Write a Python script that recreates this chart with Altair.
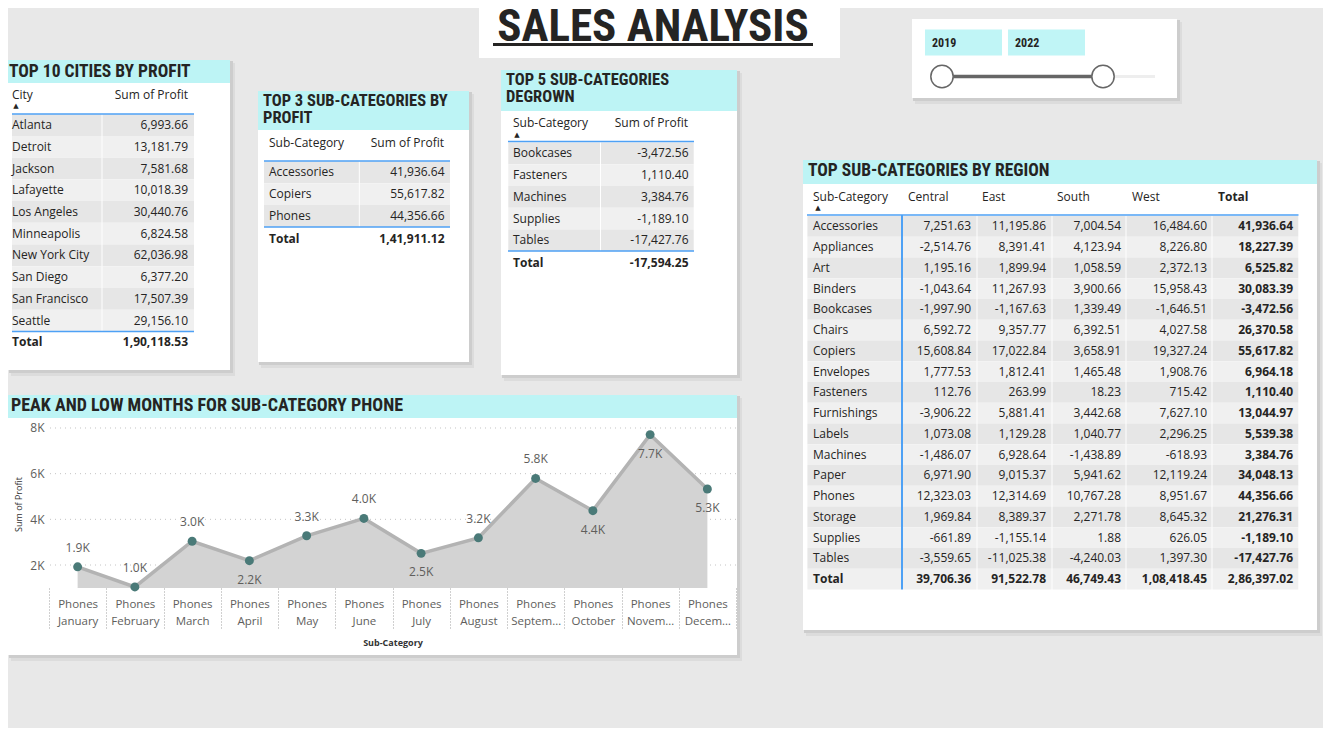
import pandas as pd
import altair as alt

# ---- values ----
cities = ["Atlanta", "Detroit", "Jackson", "Lafayette", "Los Angeles", "Minneapolis",
          "New York City", "San Diego", "San Francisco", "Seattle"]
city_profit = [6993.66, 13181.79, 7581.68, 10018.39, 30440.76, 6824.58,
               62036.98, 6377.20, 17507.39, 29156.10]
city_total = 190118.53

top3_subcats = ["Accessories", "Copiers", "Phones"]
top3_profit = [41936.64, 55617.82, 44356.66]
top3_total = 141911.12

degrown_subcats = ["Bookcases", "Fasteners", "Machines", "Supplies", "Tables"]
degrown_profit = [-3472.56, 1110.40, 3384.76, -1189.10, -17427.76]
degrown_total = -17594.25

regions = ["Central", "East", "South", "West"]
subcats = ["Accessories", "Appliances", "Art", "Binders", "Bookcases", "Chairs", "Copiers",
           "Envelopes", "Fasteners", "Furnishings", "Labels", "Machines", "Paper", "Phones",
           "Storage", "Supplies", "Tables"]
central = [7251.63, -2514.76, 1195.16, -1043.64, -1997.90, 6592.72, 15608.84, 1777.53, 112.76,
           -3906.22, 1073.08, -1486.07, 6971.90, 12323.03, 1969.84, -661.89, -3559.65]
east = [11195.86, 8391.41, 1899.94, 11267.93, -1167.63, 9357.77, 17022.84, 1812.41, 263.99,
        5881.41, 1129.28, 6928.64, 9015.37, 12314.69, 8389.37, -1155.14, -11025.38]
south = [7004.54, 4123.94, 1058.59, 3900.66, 1339.49, 6392.51, 3658.91, 1465.48, 18.23,
         3442.68, 1040.77, -1438.89, 5941.62, 10767.28, 2271.78, 1.88, -4240.03]
west = [16484.60, 8226.80, 2372.13, 15958.43, -1646.51, 4027.58, 19327.24, 1908.76, 715.42,
        7627.10, 2296.25, -618.93, 12119.24, 8951.67, 8645.32, 626.05, 1397.30]
subcat_total = [41936.64, 18227.39, 6525.82, 30083.39, -3472.56, 26370.58, 55617.82, 6964.18,
                1110.40, 13044.97, 5539.38, 3384.76, 34048.13, 44356.66, 21276.31, -1189.10,
                -17427.76]
region_total = [39706.36, 91522.78, 46749.43, 108418.45, 286397.02]

months = ["January", "February", "March", "April", "May", "June", "July", "August",
          "September", "October", "November", "December"]
phone_profit = [1920, 1040, 3040, 2190, 3280, 4040, 2510, 3190, 5790, 4380, 7710, 5330]
profit_ticks = [2000, 4000, 6000, 8000]
labels_below = ["April", "July", "October", "November", "December"]

years = [2019, 2022]

# ---- look ----
BG = "#e8e8e8"
CYAN = "#bdf4f5"
INK = "#252423"
GREY = "#605e5c"
BLUE = "#4ea1f5"
STRIPES = ["#e6e6e6", "#f0f0f0"]
BODY = "Open Sans"
HEAD = "Liberation Sans Narrow, Roboto Condensed, Roboto"

# plot area of the monthly chart (page px); everything else is placed relative to it
OX, OY = 49, 420
PW, PH = 687, 168
Y_DOMAIN = [993, 8350]

ONE = pd.DataFrame({"k": [0]})


def px(x):
    return x - OX


def py(y):
    return y - OY


def inr(v):
    # Indian digit grouping, as the report shows it (1,90,118.53)
    sign = "-" if v < 0 else ""
    ip, dp = f"{abs(v):.2f}".split(".")
    if len(ip) > 3:
        head, groups = ip[:-3], [ip[-3:]]
        while len(head) > 2:
            groups.insert(0, head[-2:])
            head = head[:-2]
        if head:
            groups.insert(0, head)
        ip = ",".join(groups)
    return f"{sign}{ip}.{dp}"


def box(x0, y0, x1, y1, color):
    return alt.Chart(ONE).mark_rect(color=color).encode(
        x=alt.value(px(x0)), x2=alt.value(px(x1)), y=alt.value(py(y0)), y2=alt.value(py(y1)))


def hline(x0, x1, y, color=BLUE, width=1.5):
    return alt.Chart(ONE).mark_rule(color=color, strokeWidth=width).encode(
        x=alt.value(px(x0)), x2=alt.value(px(x1)), y=alt.value(py(y)))


def vline(x, y0, y1, color=BLUE, width=2):
    return alt.Chart(ONE).mark_rule(color=color, strokeWidth=width).encode(
        x=alt.value(px(x)), y=alt.value(py(y0)), y2=alt.value(py(y1)))


def text(s, x, y, size=12, bold=False, align="left", font=BODY, color=INK, baseline="middle"):
    return alt.Chart(ONE).mark_text(
        text=s, align=align, baseline=baseline, fontSize=size, font=font, color=color,
        fontWeight="bold" if bold else "normal").encode(x=alt.value(px(x)), y=alt.value(py(y)))


def card(x0, y0, x1, y1, header_bottom=None):
    out = [box(x0 + 3, y0 + 3, x1 + 5, y1 + 6, "#dcdcdc"),
           box(x0 + 1, y0 + 1, x1 + 3, y1 + 3, "#cdcdcd"),
           box(x0, y0, x1, y1, "white")]
    if header_bottom:
        out.append(box(x0, y0, x1, header_bottom, CYAN))
    return out


def sort_arrow(x, y):
    return text("▲", x, y, size=7, font="DejaVu Sans", align="center")


def table_body(df, top, bottom, segments, key_x, cols, total_key=None):
    """Striped rows on a band scale. cols: (field, right edge, always bold)."""
    scale = alt.Scale(type="band", domain=list(df["name"]), range=[py(top), py(bottom)],
                      paddingInner=0, paddingOuter=0)
    y_rect = alt.Y("name:N", scale=scale, axis=None)
    y_txt = alt.Y("name:N", scale=scale, axis=None, bandPosition=0.5)
    layers = []
    for x0, x1 in segments:
        layers.append(alt.Chart(df).mark_rect().encode(
            x=alt.value(px(x0)), x2=alt.value(px(x1)), y=y_rect,
            color=alt.condition("datum.i % 2 == 0", alt.value(STRIPES[0]), alt.value(STRIPES[1]))))

    def txt(field, x, align, bold, filt):
        ch = alt.Chart(df)
        if filt:
            ch = ch.transform_filter(filt)
        return ch.mark_text(align=align, baseline="middle", font=BODY, fontSize=12, color=INK,
                            fontWeight="bold" if bold else "normal").encode(
            x=alt.value(px(x)), y=y_txt, text=f"{field}:N")

    not_total = f"datum.name != '{total_key}'" if total_key else None
    is_total = f"datum.name == '{total_key}'" if total_key else None
    layers.append(txt("name", key_x, "left", False, not_total))
    if total_key:
        layers.append(txt("name", key_x, "left", True, is_total))
    for field, xr, bold in cols:
        layers.append(txt(field, xr, "right", bold, None if bold else not_total))
        if total_key and not bold:
            layers.append(txt(field, xr, "right", True, is_total))
    return layers


layers = []

# ---- top 10 cities ----
city_df = pd.DataFrame({"name": cities, "profit": [inr(v) for v in city_profit],
                        "i": range(len(cities))})
layers += card(8, 60, 230, 370, 83)
layers += [text("TOP 10 CITIES BY PROFIT", 9, 72, size=17.5, bold=True, font=HEAD),
           text("City", 12, 95), text("Sum of Profit", 188, 95, align="right"),
           sort_arrow(16, 106)]
layers += table_body(city_df, 114.2, 331.4, [(12, 101.5), (102.5, 194)], 12,
                     [("profit", 188, False)])
layers += [hline(12, 194, 114), hline(12, 194, 331.5),
           text("Total", 12, 342, bold=True), text(inr(city_total), 188, 342, bold=True, align="right")]

# ---- top 3 sub-categories ----
top3_df = pd.DataFrame({"name": top3_subcats, "profit": [inr(v) for v in top3_profit],
                        "i": range(len(top3_subcats))})
layers += card(258, 91, 469, 362, 130)
layers += [text("TOP 3 SUB-CATEGORIES BY", 263, 101, size=16.5, bold=True, font=HEAD),
           text("PROFIT", 263, 118, size=16.5, bold=True, font=HEAD),
           text("Sub-Category", 269, 143), text("Sum of Profit", 444, 143, align="right")]
layers += table_body(top3_df, 161.3, 227, [(264, 358.8), (359.8, 450)], 269,
                     [("profit", 444.5, False)])
layers += [hline(264, 450, 161), hline(264, 450, 227),
           text("Total", 269, 238.5, bold=True),
           text(inr(top3_total), 444.5, 238.5, bold=True, align="right")]

# ---- top 5 sub-categories degrown ----
deg_df = pd.DataFrame({"name": degrown_subcats, "profit": [inr(v) for v in degrown_profit],
                       "i": range(len(degrown_subcats))})
layers += card(501, 70, 737, 375, 111)
layers += [text("TOP 5 SUB-CATEGORIES", 506, 80, size=16.5, bold=True, font=HEAD),
           text("DEGROWN", 506, 97, size=16.5, bold=True, font=HEAD),
           text("Sub-Category", 513, 123), text("Sum of Profit", 688, 123, align="right"),
           sort_arrow(517, 135)]
layers += table_body(deg_df, 142.4, 251.2, [(508.3, 600), (601, 693.7)], 513,
                     [("profit", 688.5, False)])
layers += [hline(508, 694, 141.5), hline(508, 694, 251),
           text("Total", 513, 262.5, bold=True),
           text(inr(degrown_total), 688.5, 262.5, bold=True, align="right")]

# ---- report title ----
layers += [box(479, 8, 840, 58, "white"),
           text("SALES ANALYSIS", 653, 40.5, size=45, bold=True, font=HEAD, align="center",
                baseline="alphabetic"),
           hline(493, 813, 44.5, color=INK, width=3)]

# ---- year slicer ----
layers += card(912, 19, 1177, 98)
layers += [box(925, 29.5, 1002, 55.5, "#c0f5f6"), box(1008, 29.5, 1085, 55.5, "#c0f5f6"),
           text(str(years[0]), 932, 43, size=12, bold=True, font=HEAD),
           text(str(years[-1]), 1015, 43, size=12, bold=True, font=HEAD),
           hline(942, 1155, 76.5, color="#eeeeee", width=3)]
year_df = pd.DataFrame({"year": years})
year_x = alt.X("year:Q", scale=alt.Scale(domain=[years[0], years[-1]], range=[px(942), px(1103)]),
               axis=None)
layers += [alt.Chart(year_df).mark_line(color="#666666", strokeWidth=3.5).encode(
               x=year_x, y=alt.value(py(76.5))),
           alt.Chart(year_df).mark_point(filled=True, fill="white", stroke="#666666",
                                         strokeWidth=1.5, size=500, opacity=1).encode(
               x=year_x, y=alt.value(py(76.5)))]

# ---- sub-categories by region ----
reg_df = pd.DataFrame({"name": subcats + ["Total"]})
for r, vals, tot in zip(regions, [central, east, south, west], region_total):
    reg_df[r] = [inr(v) for v in vals] + [inr(tot)]
reg_df["Total"] = [inr(v) for v in subcat_total] + [inr(region_total[-1])]
reg_df["i"] = range(len(reg_df))
layers += card(803, 160, 1317, 630, 184)
layers += [text("TOP SUB-CATEGORIES BY REGION", 808, 171, size=17.5, bold=True, font=HEAD),
           text("Sub-Category", 813, 196.5), sort_arrow(818, 208)]
for r, x in zip(regions + ["Total"], [908, 982, 1057, 1132, 1218]):
    layers.append(text(r, x, 196.5, bold=(r == "Total")))
layers += table_body(
    reg_df, 215.9, 589.4,
    [(807.4, 901), (903, 976.5), (977.5, 1051.5), (1052.5, 1125.5), (1126.5, 1211.5), (1212.5, 1298.3)],
    813,
    [("Central", 971, False), ("East", 1046, False), ("South", 1121, False),
     ("West", 1207, False), ("Total", 1293, True)],
    total_key="Total")
layers += [hline(807, 1298.5, 215), vline(902, 215, 589.4)]

# ---- peak and low months for phones ----
layers += card(8, 395, 737, 655, 418)
layers.append(text("PEAK AND LOW MONTHS FOR SUB-CATEGORY PHONE", 11, 406, size=18, bold=True,
                   font=HEAD))

phone = pd.DataFrame({"Month": months, "Profit": phone_profit})
tick_df = pd.DataFrame({"v": profit_ticks})
month_scale = alt.Scale(type="band", domain=months, paddingInner=0, paddingOuter=0)
profit_scale = alt.Scale(domain=Y_DOMAIN, nice=False, zero=False)
x_plain = alt.X("Month:N", scale=month_scale, bandPosition=0.5, axis=None)
y_plain = alt.Y("Profit:Q", scale=profit_scale, axis=None)

x_axis = alt.Axis(title="Sub-Category", titleFont=BODY, titleFontSize=9, titleFontWeight="bold",
                  titleColor="#333333", titlePadding=8,
                  labelExpr="isValid(datum.value) ? ['Phones', datum.value] : ''",
                  labelFont=BODY, labelFontSize=11.5, labelColor=GREY, labelLimit=52,
                  labelAngle=0, labelPadding=-32, labelLineHeight=17, tickBand="extent",
                  ticks=True, tickSize=42, tickWidth=1, tickDash=[1, 2], tickColor="#a0a0a0",
                  domain=False, grid=False, zindex=1)
y_axis = alt.Axis(values=profit_ticks, labelExpr="datum.value / 1000 + 'K'", labelFont=BODY,
                  labelFontSize=12, labelColor=GREY, labelPadding=5, ticks=False, domain=False,
                  grid=False, title="Sum of Profit", titleFont=BODY, titleFontSize=9,
                  titleFontWeight="normal", titleColor="#333333", titlePadding=6, zindex=1)

grid = alt.Chart(tick_df).mark_rule(color="#c4c4c4", strokeDash=[1, 4]).encode(
    y=alt.Y("v:Q", scale=profit_scale, axis=None))
area = alt.Chart(phone).mark_area(color="#d3d3d3", opacity=1).encode(
    x=alt.X("Month:N", scale=month_scale, bandPosition=0.5, axis=x_axis),
    y=alt.Y("Profit:Q", scale=profit_scale, axis=y_axis),
    y2=alt.datum(Y_DOMAIN[0]))
line = alt.Chart(phone).mark_line(color="#b3b3b3", strokeWidth=3.5).encode(x=x_plain, y=y_plain)
dots = alt.Chart(phone).mark_circle(color="#4a7a78", size=80, opacity=1).encode(x=x_plain, y=y_plain)
lab = alt.Chart(phone).transform_calculate(
    lab="format(datum.Profit / 1000, '.1f') + 'K'")
lab_style = dict(font=BODY, fontSize=12, color=GREY, baseline="middle")
above = lab.transform_filter(~alt.FieldOneOfPredicate(field="Month", oneOf=labels_below)).mark_text(
    dy=-19, **lab_style).encode(x=x_plain, y=y_plain, text="lab:N")
below = lab.transform_filter(alt.FieldOneOfPredicate(field="Month", oneOf=labels_below)).mark_text(
    dy=19, **lab_style).encode(x=x_plain, y=y_plain, text="lab:N")
layers += [grid, area, line, dots, above, below]

# fixed canvas: the padding puts the plot area exactly where it sits on the report page
chart = alt.layer(*layers).resolve_scale(x="independent", y="independent").properties(
    width=PW, height=PH, background=BG, autosize="none",
    padding={"left": OX - 8, "top": OY - 8, "right": 1323 - OX - PW, "bottom": 728 - OY - PH}
).configure_view(stroke=None)

chart.save("out.html", embed_options={"renderer": "svg", "actions": False})
